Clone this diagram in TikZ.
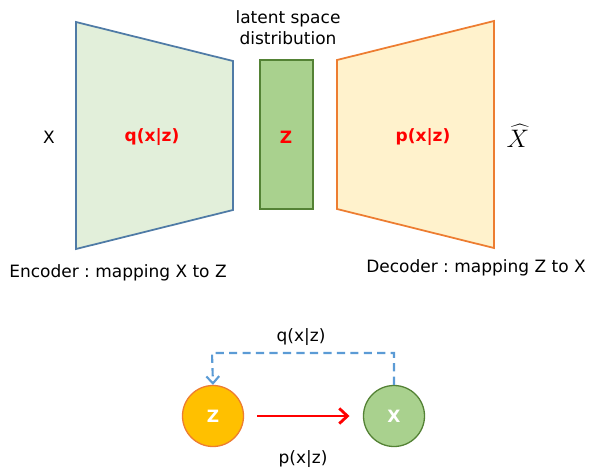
\documentclass[tikz,border=0pt]{standalone}
\usepackage{fontspec}
\setmainfont{DejaVu Sans}
\usetikzlibrary{arrows.meta}

\definecolor{encfill}{HTML}{E2EFDA}
\definecolor{encline}{HTML}{4F7BA6}
\definecolor{latfill}{HTML}{A9D18E}
\definecolor{latline}{HTML}{548235}
\definecolor{decfill}{HTML}{FFF2CC}
\definecolor{decline}{HTML}{ED7D31}
\definecolor{zfill}{HTML}{FFC000}
\definecolor{dashblue}{HTML}{5B9BD5}

\frenchspacing
\begin{document}
\begin{tikzpicture}[
        x=0.03cm, y=-0.03cm,
        font=\fontsize{14.5}{17}\selectfont,
        lbl/.style={inner sep=0pt, align=center},
        redlbl/.style={lbl, text=red, font=\fontsize{14.5}{17}\selectfont\bfseries},
        circ/.style={circle, minimum size=1.83cm, inner sep=0pt, line width=1.1pt,
            text=white, font=\fontsize{14.5}{17}\selectfont\bfseries}
    ]
    \useasboundingbox (0,0) rectangle (589,469);

    % encoder, latent block, decoder
    \draw[encline, fill=encfill, line width=1.5pt]
        (76,22) -- (233,61) -- (233,210) -- (76,249) -- cycle;
    \draw[latline, fill=latfill, line width=1.2pt] (260,60) rectangle (313,209);
    \draw[decline, fill=decfill, line width=1.5pt]
        (337,60) -- (494,21) -- (494,248) -- (337,209) -- cycle;

    \node[lbl] (lat) at (288,28) {latent space\\[1pt]distribution};
    \node[lbl] (xin) at (49,137) {X};
    \node[redlbl] (qenc) at (152,137) {q(x|z)};
    \node[redlbl] (zlat) at (286,137) {Z};
    \node[redlbl] (pdec) at (423,137) {p(x|z)};
    \node[lbl] (xout) at (518,136) {\scalebox{1.5}{$\widehat{X}$}};
    \node[lbl] (enc) at (118,273) {Encoder : mapping X to Z};
    \node[lbl] (dec) at (476,268) {Decoder : mapping Z to X};

    % graphical model
    \node[circ, draw=decline, fill=zfill] (zc) at (213,416) {Z};
    \node[circ, draw=latline, fill=latfill] (xc) at (394,416) {X};
    \coordinate (qtop) at (394,353);
    \coordinate (ztop) at (212,353);

    \draw[red, line width=2.4pt, -{Straight Barb[length=7pt, width=13pt]}]
        ([xshift=0.4cm]zc.east) -- ([xshift=-0.4cm]xc.west);
    \draw[dashblue, line width=1.8pt, dash pattern=on 7pt off 4.5pt,
        -{Straight Barb[length=6pt, width=11pt]}]
        (xc.north) -- (qtop) -- (ztop) -- (zc.north);

    \node[lbl] (qlab) at (301,337) {q(x|z)};
    \node[lbl] (plab) at (303,459) {p(x|z)};
\end{tikzpicture}
\end{document}
